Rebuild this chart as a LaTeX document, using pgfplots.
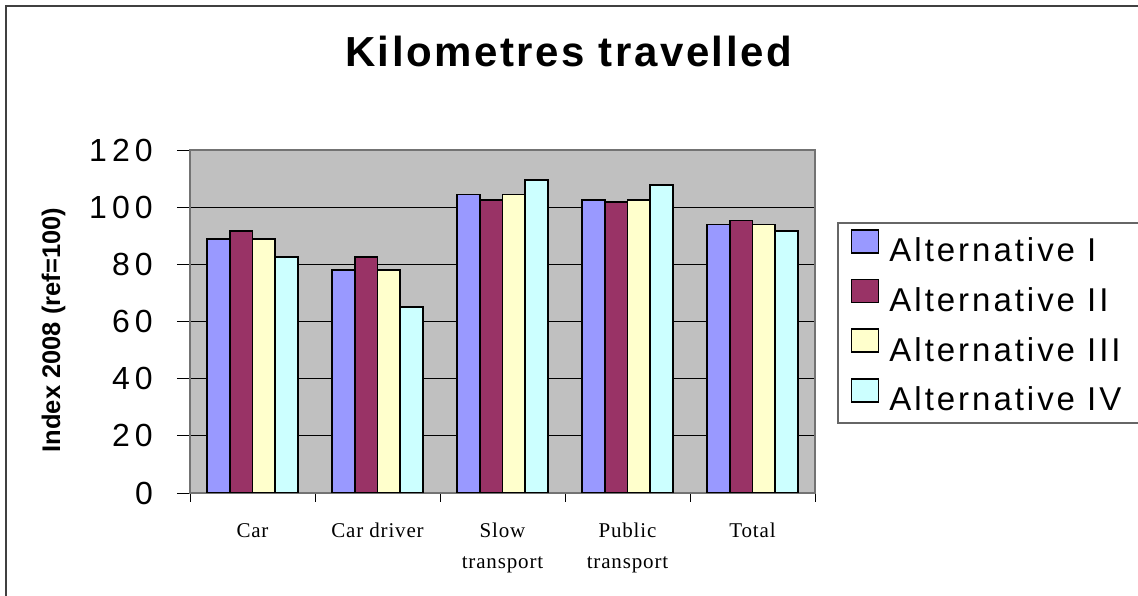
\documentclass[border=0pt]{standalone}
\usepackage{fontspec}
\setmainfont{Liberation Sans}
\newfontfamily\tickfont[LetterSpace=16]{Liberation Sans}
\newfontfamily\legfont[LetterSpace=9]{Liberation Sans}
\newfontfamily\titlefont[LetterSpace=6]{Liberation Sans}
\newfontfamily\catfont[LetterSpace=4]{Liberation Serif}
\usepackage{pgfplots}
\pgfplotsset{compat=1.18}
\definecolor{c1}{HTML}{9999FF}
\definecolor{c2}{HTML}{993366}
\definecolor{c3}{HTML}{FFFFCC}
\definecolor{c4}{HTML}{CCFFFF}
\definecolor{bg}{HTML}{C0C0C0}
\pgfplotstableread{
x I II III IV
0 89.0 91.6 89.0 82.5
1 78.0 82.5 78.0 65.0
2 104.4 102.4 104.4 109.6
3 102.4 101.9 102.4 107.7
4 93.9 95.3 93.9 91.6
}\datatable
\begin{document}
\begin{tikzpicture}
\useasboundingbox (0pt,0pt) rectangle (1138pt,596pt);
\draw[black!75, line width=1.3pt] (6pt,-10pt) rectangle (1150pt,590pt);
\begin{axis}[
  at={(190pt,103pt)}, anchor=south west,
  scale only axis, width=625pt, height=343pt,
  xmin=-0.5, xmax=4.5, ymin=0, ymax=120,
  ybar=0pt, bar width=22.6pt,
  axis background/.style={fill=bg},
  axis line style={draw=black!55, line width=1.2pt},
  ymajorgrids, grid style={black, line width=0.9pt},
  ytick={0,20,...,120},
  yticklabels={0,20,40,60,80,100,120},
  yticklabel style={font=\fontsize{32}{32}\tickfont, inner sep=0pt, xshift=-24pt},
  tick align=outside,
  xtick pos=bottom, ytick pos=left,
  major tick length=13pt,
  minor tick length=9pt,
  tick style={black, line width=0.9pt},
  xtick={0,1,2,3,4},
  xticklabels={Car, Car driver, Slow\\transport, Public\\transport, Total},
  xticklabel style={font=\fontsize{21}{31}\catfont, align=center, inner sep=0pt, yshift=-17pt},
  major x tick style={draw=none},
  minor xtick={-0.5,0.5,1.5,2.5,3.5,4.5},
  ylabel={Index 2008 (ref=100)},
  every axis y label/.style={at={(axis description cs:-0.208,0.475)}, rotate=90, anchor=base, font=\fontsize{25.5}{25.5}\selectfont\bfseries},
  legend cell align=left,
  legend image code/.code={\draw[#1, line width=1.6pt] (0pt,0pt) rectangle (27pt,23pt);},
  legend style={at={(axis description cs:1.0571,0.7705)}, anchor=north west,
    draw=none, fill=none, inner sep=0pt, row sep=9.9pt,
    font=\fontsize{33}{33}\legfont,
    nodes={inner xsep=0pt, inner ysep=0pt, text height=25pt, text depth=7pt},
    /tikz/every odd column/.append style={column sep=10pt}},
]
\addplot[draw=black, line width=1.8pt, fill=c1] table[x=x,y=I]{\datatable};
\addplot[draw=black, line width=1.8pt, fill=c2] table[x=x,y=II]{\datatable};
\addplot[draw=black, line width=1.8pt, fill=c3] table[x=x,y=III]{\datatable};
\addplot[draw=black, line width=1.8pt, fill=c4] table[x=x,y=IV]{\datatable};
\legend{Alternative I, Alternative II, Alternative III, Alternative IV}
\end{axis}
\draw[black!60, line width=1.2pt] (838pt,173pt) rectangle (1150pt,373pt);
\node[anchor=base, font=\fontsize{42}{42}\titlefont\bfseries] at (568.5pt,529.3pt) {Kilometres travelled};
\end{tikzpicture}
\end{document}
